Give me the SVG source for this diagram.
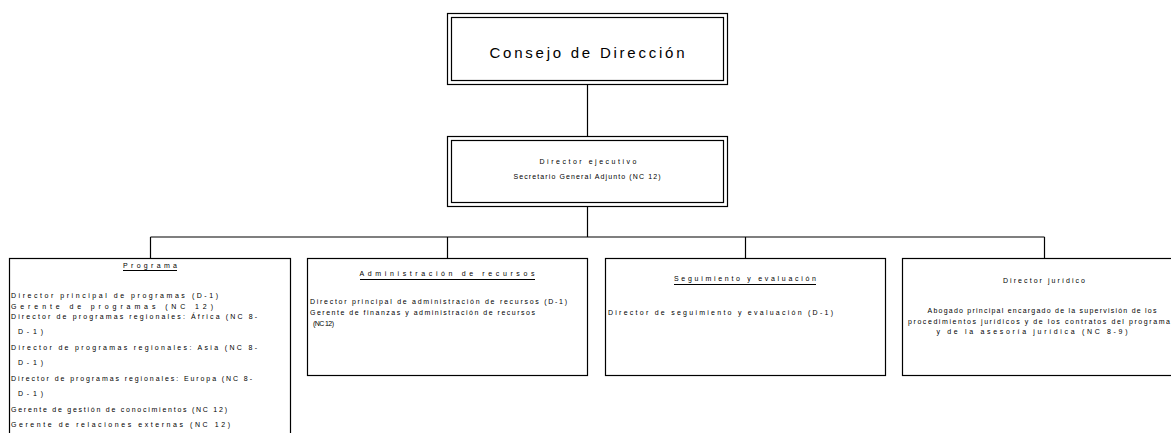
<svg xmlns="http://www.w3.org/2000/svg" width="1171" height="433" viewBox="0 0 1171 433">
<style>
.box{fill:#fff;stroke:#000;stroke-width:1.2}
.ln{fill:none;stroke:#000;stroke-width:1.2}
.t{font-family:"Liberation Sans",Arial,sans-serif;font-size:7px;fill:#000}
.c{text-anchor:middle}
.big{font-family:"Liberation Sans",Arial,sans-serif;font-size:15px;fill:#000;text-anchor:middle}
</style>
<rect width="1171" height="433" fill="#fff"/>
<g id="connectors">
<path class="ln" d="M587.5 84V136M587.5 206V237M150.5 237H1044.5M150.5 237V258M447.5 237V258M745.5 237V258M1044.5 237V258"/>
</g>
<g id="consejo">
<rect class="box" x="447.5" y="13.5" width="280" height="71"/>
<rect class="box" x="451.5" y="17.5" width="272" height="63"/>
<text class="big" x="587" y="58" textLength="195" lengthAdjust="spacing">Consejo de Dirección</text>
</g>
<g id="director">
<rect class="box" x="447.5" y="136.5" width="280" height="70"/>
<rect class="box" x="451.5" y="140.5" width="272" height="62"/>
<text class="t c" x="588" y="164" textLength="97" lengthAdjust="spacing">Director ejecutivo</text>
<text class="t c" x="587" y="179" textLength="147" lengthAdjust="spacing">Secretario General Adjunto (NC 12)</text>
</g>
<g id="programa">
<rect class="box" x="9.5" y="258.5" width="281" height="190"/>
<text class="t c" x="150" y="268" textLength="54" lengthAdjust="spacing">Programa</text>
<path class="ln" d="M123 270.5H177" stroke-width="0.9"/>
<text class="t" x="11" y="298" textLength="207" lengthAdjust="spacing">Director principal de programas (D-1)</text>
<text class="t" x="11" y="308.5" textLength="202" lengthAdjust="spacing">Gerente de programas (NC 12)</text>
<text class="t" x="11" y="319" textLength="246" lengthAdjust="spacing">Director de programas regionales: África (NC 8-</text>
<text class="t" x="18" y="334" textLength="25" lengthAdjust="spacing">D-1)</text>
<text class="t" x="11" y="349.5" textLength="246" lengthAdjust="spacing">Director de programas regionales: Asia (NC 8-</text>
<text class="t" x="18" y="365" textLength="25" lengthAdjust="spacing">D-1)</text>
<text class="t" x="11" y="380.5" textLength="241" lengthAdjust="spacing">Director de programas regionales: Europa (NC 8-</text>
<text class="t" x="18" y="396" textLength="25" lengthAdjust="spacing">D-1)</text>
<text class="t" x="11" y="411.5" textLength="216" lengthAdjust="spacing">Gerente de gestión de conocimientos (NC 12)</text>
<text class="t" x="11" y="427" textLength="219" lengthAdjust="spacing">Gerente de relaciones externas (NC 12)</text>
</g>
<g id="administracion">
<rect class="box" x="307.5" y="258.5" width="280" height="117"/>
<text class="t c" x="447" y="276" textLength="175" lengthAdjust="spacing">Administración de recursos</text>
<path class="ln" d="M360 279.5H535" stroke-width="0.9"/>
<text class="t" x="310" y="304" textLength="257" lengthAdjust="spacing">Director principal de administración de recursos (D-1)</text>
<text class="t" x="310" y="315" textLength="225" lengthAdjust="spacing">Gerente de finanzas y administración de recursos</text>
<text class="t" x="313" y="325.5" textLength="21" lengthAdjust="spacing">(NC 12)</text>
</g>
<g id="seguimiento">
<rect class="box" x="605.5" y="258.5" width="280" height="117"/>
<text class="t c" x="745" y="281" textLength="142" lengthAdjust="spacing">Seguimiento y evaluación</text>
<path class="ln" d="M674 284.5H816" stroke-width="0.9"/>
<text class="t" x="608" y="315" textLength="225" lengthAdjust="spacing">Director de seguimiento y evaluación (D-1)</text>
</g>
<g id="juridico">
<rect class="box" x="902.5" y="258.5" width="280" height="117"/>
<text class="t c" x="1044" y="283" textLength="82" lengthAdjust="spacing">Director jurídico</text>
<text class="t c" x="1042" y="313" textLength="229" lengthAdjust="spacing">Abogado principal encargado de la supervisión de los</text>
<text class="t c" x="1039" y="323.5" textLength="262" lengthAdjust="spacing">procedimientos jurídicos y de los contratos del programa</text>
<text class="t c" x="1032" y="333.5" textLength="191" lengthAdjust="spacing">y de la asesoría jurídica (NC 8-9)</text>
</g>
</svg>
